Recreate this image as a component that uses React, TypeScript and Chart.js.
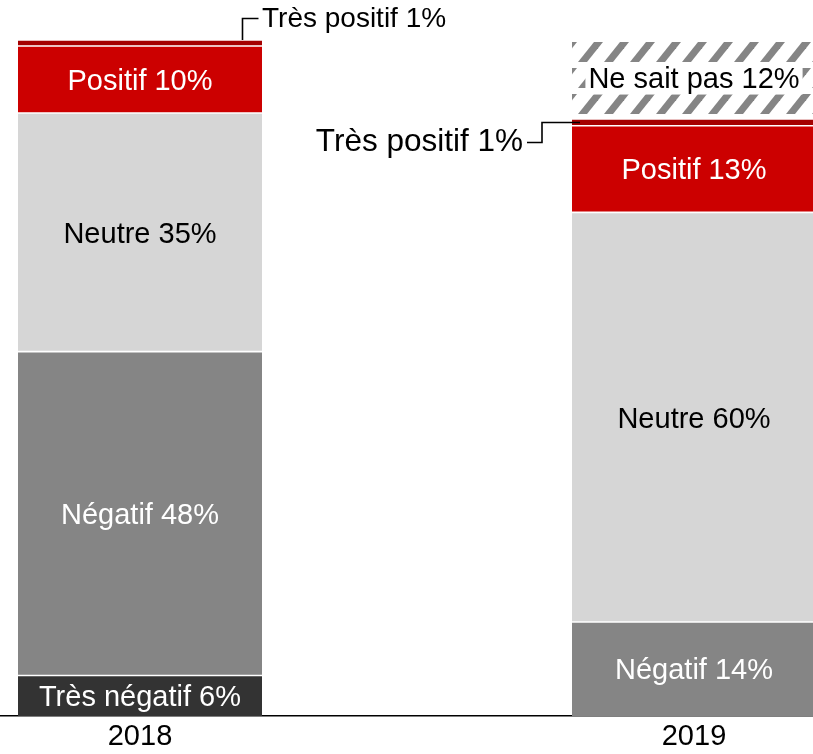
import React, { useEffect, useRef } from 'react';
import { Chart, registerables } from 'chart.js';

Chart.register(...registerables);

const FONT = '"Liberation Sans", Arial, sans-serif';

// categories
const years = ['2018', '2019'];
const yearPositions = [0, 1];

// series values (share of answers, %)
const tresNegatif = [6.0, null];
const negatif = [47.9, 13.9];
const neutre = [35.3, 60.6];
const positif = [9.9, 12.8];
const tresPositif = [0.9, 1.0];
const neSaitPas = [null, 11.7];

// displayed (rounded) percentages
const tresNegatifPct = [6, null];
const negatifPct = [48, 14];
const neutrePct = [35, 60];
const positifPct = [10, 13];
const tresPositifPct = [1, 1];
const neSaitPasPct = [null, 12];

function makeHatch(): CanvasPattern | string {
  const w = 26;
  const h = 26;
  const tile = document.createElement('canvas');
  tile.width = w;
  tile.height = h;
  const t = tile.getContext('2d');
  if (!t) return '#858585';
  t.fillStyle = '#ffffff';
  t.fillRect(0, 0, w, h);
  t.fillStyle = '#858585';
  for (const dy of [-h, 0]) {
    for (const dx of [-w, 0, w]) {
      const y0 = 16 + dy;
      const y1 = y0 + 20;
      t.beginPath();
      t.moveTo(dx + 6, y1);
      t.lineTo(dx + 15, y1);
      t.lineTo(dx + 31, y0);
      t.lineTo(dx + 22, y0);
      t.closePath();
      t.fill();
    }
  }
  const ctx = document.createElement('canvas').getContext('2d');
  const p = ctx ? ctx.createPattern(tile, 'repeat') : null;
  return p || '#858585';
}

type Series = {
  name: string;
  values: (number | null)[];
  pct: (number | null)[];
  color: any;
  textColor: string;
  kind: 'inside' | 'callout' | 'boxed';
};

export default function App() {
  const ref = useRef<HTMLCanvasElement | null>(null);

  useEffect(() => {
    document.body.style.margin = '0';
    const canvas = ref.current;
    if (!canvas) return;

    const series: Series[] = [
      { name: 'Très négatif', values: tresNegatif, pct: tresNegatifPct, color: '#333333', textColor: '#ffffff', kind: 'inside' },
      { name: 'Négatif', values: negatif, pct: negatifPct, color: '#858585', textColor: '#ffffff', kind: 'inside' },
      { name: 'Neutre', values: neutre, pct: neutrePct, color: '#d6d6d6', textColor: '#000000', kind: 'inside' },
      { name: 'Positif', values: positif, pct: positifPct, color: '#cc0000', textColor: '#ffffff', kind: 'inside' },
      { name: 'Très positif', values: tresPositif, pct: tresPositifPct, color: '#a50000', textColor: '#000000', kind: 'callout' },
      { name: 'Ne sait pas', values: neSaitPas, pct: neSaitPasPct, color: makeHatch(), textColor: '#000000', kind: 'boxed' },
    ];

    // is this segment the lowest one of its stack?
    const isBottom = (di: number, idx: number) => {
      for (let k = 0; k < di; k++) {
        if (series[k].values[idx] != null) return false;
      }
      return true;
    };

    const capMid = (size: number) => 0.355 * size;

    const labelPlugin = {
      id: 'segLabels',
      afterDatasetsDraw(chart: any) {
        const ctx: CanvasRenderingContext2D = chart.ctx;
        ctx.save();
        ctx.textBaseline = 'alphabetic';
        series.forEach((s, di) => {
          const meta = chart.getDatasetMeta(di);
          meta.data.forEach((el: any, i: number) => {
            const pct = s.pct[i];
            if (pct == null || s.values[i] == null) return;
            const { x, y, base, width } = el.getProps(['x', 'y', 'base', 'width'], true);
            const text = `${s.name} ${pct}%`;
            const top = Math.min(y, base);
            const bottom = Math.max(y, base);
            const cy = (top + bottom) / 2;
            const left = x - width / 2;
            const right = x + width / 2;
            if (s.kind === 'inside') {
              const size = 29;
              ctx.font = `${size}px ${FONT}`;
              ctx.textAlign = 'center';
              ctx.fillStyle = s.textColor;
              ctx.fillText(text, x, cy + capMid(size));
            } else if (s.kind === 'boxed') {
              const size = 29;
              ctx.font = `${size}px ${FONT}`;
              const tw = ctx.measureText(text).width;
              ctx.fillStyle = '#ffffff';
              ctx.fillRect(x - tw / 2 - 3, cy - 17, tw + 6, 32);
              ctx.textAlign = 'center';
              ctx.fillStyle = s.textColor;
              ctx.fillText(text, x, cy - 1.5 + capMid(size));
            } else {
              ctx.strokeStyle = '#000000';
              ctx.lineWidth = 1.6;
              ctx.fillStyle = s.textColor;
              if (i === 0) {
                const size = 28;
                ctx.font = `${size}px ${FONT}`;
                const lx = right - 19.5;
                const ly = top - 21.5;
                ctx.beginPath();
                ctx.moveTo(lx, top);
                ctx.lineTo(lx, ly);
                ctx.lineTo(right - 3.5, ly);
                ctx.stroke();
                ctx.textAlign = 'left';
                ctx.fillText(text, right, ly - 1.5 + capMid(size));
              } else {
                const size = 31.5;
                ctx.font = `${size}px ${FONT}`;
                const ly = cy + 20;
                ctx.beginPath();
                ctx.moveTo(left + 8, cy);
                ctx.lineTo(left - 30, cy);
                ctx.lineTo(left - 30, ly);
                ctx.lineTo(left - 45, ly);
                ctx.stroke();
                ctx.textAlign = 'right';
                ctx.fillText(text, left - 49, ly - 2.8 + capMid(size));
              }
            }
          });
        });
        ctx.restore();
      },
    };

    const chart = new Chart(canvas, {
      type: 'bar',
      data: {
        datasets: series.map((s, di) => ({
          label: s.name,
          data: yearPositions.map((xv, i) => ({ x: xv, y: s.values[i] })),
          backgroundColor: s.color,
          borderColor: '#ffffff',
          borderWidth: (c: any) => ({
            top: 1.1,
            bottom: isBottom(di, c.dataIndex) ? 0 : 1.1,
            left: 0,
            right: 0,
          }),
          borderSkipped: false,
          barThickness: 244,
        })) as any,
      },
      options: {
        animation: false,
        responsive: false,
        layout: { padding: { top: 40, left: 0, right: 0, bottom: 0 } },
        plugins: {
          legend: { display: false },
          tooltip: { enabled: false },
        },
        scales: {
          x: {
            type: 'linear',
            stacked: true,
            offset: false,
            min: -0.2527,
            max: 1.2148,
            grid: { display: false, offset: false, drawTicks: false },
            border: { display: true, color: '#000000', width: 1.5 },
            afterBuildTicks: (scale: any) => {
              scale.ticks = yearPositions.map((v) => ({ value: v }));
            },
            afterFit: (scale: any) => {
              scale.height = 38;
            },
            ticks: {
              autoSkip: false,
              maxRotation: 0,
              padding: 4,
              color: '#000000',
              font: { size: 29, family: FONT },
              callback: (v: any) => {
                const idx = yearPositions.indexOf(Number(v));
                return idx >= 0 ? years[idx] : '';
              },
            },
          },
          y: {
            type: 'linear',
            stacked: true,
            min: 0,
            max: 100,
            display: false,
          },
        },
      } as any,
      plugins: [labelPlugin],
    });

    return () => {
      chart.destroy();
    };
  }, []);

  return (
    <div style={{ position: 'absolute', left: 0, top: 0, width: 813, height: 754, background: '#ffffff' }}>
      <canvas ref={ref} width={813} height={754} style={{ display: 'block', width: 813, height: 754 }} />
    </div>
  );
}
